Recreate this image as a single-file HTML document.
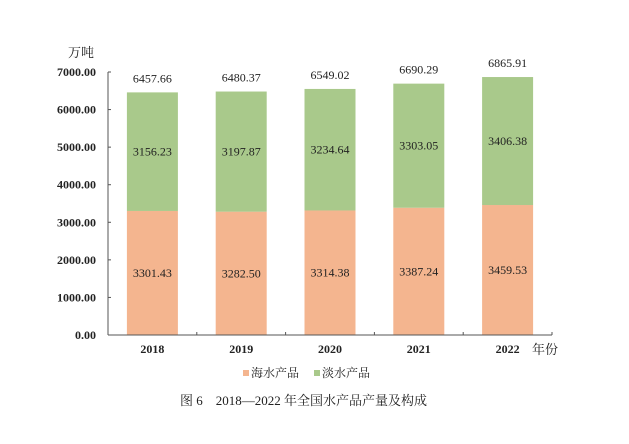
<!DOCTYPE html>
<html><head><meta charset="utf-8"><style>
body{margin:0;background:#fff}
svg text{font-family:"Liberation Serif","Noto Serif CJK SC",serif;fill:#222}
</style></head><body>
<svg id="c" width="629" height="439">
<text x="68" y="57" font-size="13">万吨</text>
<text x="532" y="354" font-size="13">年份</text>
<g>
<rect x="243" y="370" width="6" height="6" fill="#f4b58f"/>
<text x="251" y="377" font-size="12">海水产品</text>
<rect x="314" y="370" width="6" height="6" fill="#a9c98b"/>
<text x="322" y="377" font-size="12">淡水产品</text>
</g>
<text x="180" y="405" font-size="13">图 6　2018—2022 年全国水产品产量及构成</text>
</svg>
<script>
const years=["2018","2019","2020","2021","2022"];
const marine=[3301.43,3282.50,3314.38,3387.24,3459.53];
const fresh=[3156.23,3197.87,3234.64,3303.05,3406.38];
const totals=["6457.66","6480.37","6549.02","6690.29","6865.91"];
const yTicks=[0,1000,2000,3000,4000,5000,6000,7000];
const svg=document.getElementById('c'),NS='http://www.w3.org/2000/svg';
const x0=108,x1=552,y0=335,yTop=72,yMax=7000;
const y=v=>y0-(v/yMax)*(y0-yTop);
const bw=(x1-x0)/years.length;
const cx=i=>x0+bw*(i+0.5);
function mk(t,a,txt){const e=document.createElementNS(NS,t);for(const k in a)e.setAttribute(k,a[k]);if(txt!==undefined)e.textContent=txt;svg.appendChild(e);return e;}
yTicks.forEach(v=>{
 const t=mk('text',{x:96,y:y(v)+4,'font-size':12,'text-anchor':'end','font-weight':'bold'},v.toFixed(2));
 
 
 const l=mk('line',{x1:x0,x2:x0+3,y1:y(v),y2:y(v),stroke:'#555'});
 
 
});
years.forEach((yr,i)=>{
 const m=mk('rect',{x:cx(i)-25.5,width:51,y:y(marine[i]),height:y0-y(marine[i]),fill:'#f4b58f'});
 
 
 const tot=marine[i]+fresh[i];
 const f=mk('rect',{x:cx(i)-25.5,width:51,y:y(tot),height:y(marine[i])-y(tot),fill:'#a9c98b'});
 
 
 const a=mk('text',{x:cx(i),y:y(marine[i]/2)+4,'font-size':12,'text-anchor':'middle'},marine[i].toFixed(2));
 
 
 const b=mk('text',{x:cx(i),y:y(marine[i]+fresh[i]/2)+4,'font-size':12,'text-anchor':'middle'},fresh[i].toFixed(2));
 
 
 const c=mk('text',{x:cx(i),y:y(tot)-10,'font-size':12,'text-anchor':'middle'},totals[i]);
 
 
 const d=mk('text',{x:cx(i),y:353,'font-size':12,'text-anchor':'middle','font-weight':'bold'},yr);
 
 
 const tk=mk('line',{x1:x0+bw*(i+1),x2:x0+bw*(i+1),y1:y0,y2:y0-3,stroke:'#555'});
 
 
});
const ya=mk('line',{x1:x0,x2:x0,y1:yTop,y2:y0,stroke:'#555'});


const xa=mk('line',{x1:x0,x2:x1,y1:y0,y2:y0,stroke:'#555'});


</script>
</body></html>
